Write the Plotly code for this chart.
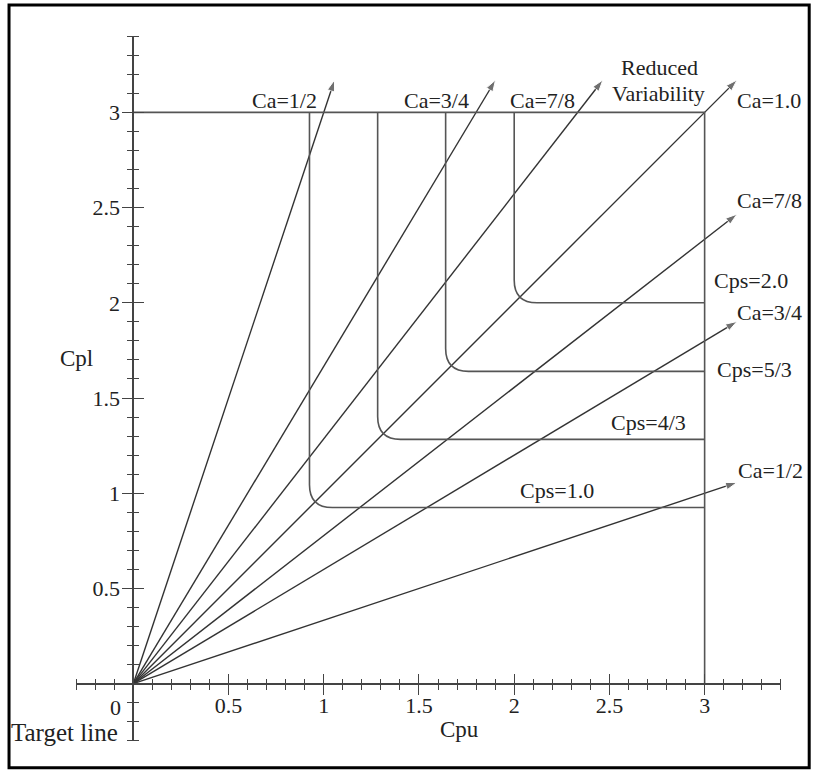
import plotly.graph_objects as go

# ---------------- data ----------------
ca_upper_labels = ["Ca=1/2", "Ca=3/4", "Ca=7/8", "Ca=1.0"]
ca_upper_slopes = [3.0, 5 / 3, 9 / 7, 1.0]          # Cpl / Cpu along each ray
ca_lower_labels = ["Ca=7/8", "Ca=3/4", "Ca=1/2"]
ca_lower_slopes = [7 / 9, 3 / 5, 1 / 3]
ray_reach = 3.17                                     # rays end where Cpl (upper) or Cpu (lower) = 3.17

cps_labels = ["Cps=1.0", "Cps=4/3", "Cps=5/3", "Cps=2.0"]
cps_levels = [0.925, 1.283, 1.64, 2.0]
cps_corner = 0.12
box_limit = 3.0

axis_min, axis_max = -0.3, 3.4
major_ticks = [0.5, 1, 1.5, 2, 2.5, 3]
major_tick_text = ["0.5", "1", "1.5", "2", "2.5", "3"]

# label positions (data coordinates)
top_label_text = ["Ca=1/2", "Ca=3/4", "Ca=7/8"]
top_label_x = [0.794, 1.592, 2.147]
top_label_y = [3.062, 3.062, 3.062]
right_label_text = ["Ca=1.0", "Ca=7/8", "Cps=2.0", "Ca=3/4", "Cps=5/3", "Ca=1/2"]
right_label_x = [3.162, 3.162, 3.041, 3.162, 3.052, 3.167]
right_label_y = [3.062, 2.538, 2.118, 1.951, 1.652, 1.122]
inner_label_text = ["Cps=4/3", "Cps=1.0"]
inner_label_x = [2.706, 2.223]
inner_label_y = [1.374, 1.017]

FONT = "Liberation Serif"
TXT = "#222222"
LINE = "#333333"
AX = "#444444"
FS = 22

fig = go.Figure()

# rays (Ca lines) with arrow heads
for s in ca_upper_slopes:
    fig.add_trace(go.Scatter(
        x=[0, ray_reach / s], y=[0, ray_reach], mode="lines+markers",
        line=dict(color=LINE, width=1.4),
        marker=dict(symbol="arrow", size=[0, 12], angleref="previous", color=LINE),
        hoverinfo="skip", showlegend=False))
for s in ca_lower_slopes:
    fig.add_trace(go.Scatter(
        x=[0, ray_reach], y=[0, ray_reach * s], mode="lines+markers",
        line=dict(color=LINE, width=1.4),
        marker=dict(symbol="arrow", size=[0, 12], angleref="previous", color=LINE),
        hoverinfo="skip", showlegend=False))

# box (Cpl = 3 and Cpu = 3)
fig.add_trace(go.Scatter(
    x=[0, box_limit, box_limit], y=[box_limit, box_limit, 0], mode="lines",
    line=dict(color="#555555", width=1.6), hoverinfo="skip", showlegend=False,
    xaxis="x2", yaxis="y2"))

# Cps contours (L-shaped with rounded corner)
for c in cps_levels:
    path = (f"M {c},{box_limit} L {c},{c + cps_corner} "
            f"Q {c},{c} {c + cps_corner},{c} L {box_limit},{c}")
    fig.add_shape(type="path", path=path, xref="x", yref="y",
                  line=dict(color="#555555", width=1.6))

# figure frame
fig.add_shape(type="rect", xref="paper", yref="paper",
              x0=-0.095, x1=1.04, y0=-0.038, y1=1.044,
              line=dict(color="black", width=3))

def ann(text, x, y, xanchor="center", size=FS):
    fig.add_annotation(text=text, x=x, y=y, xref="x", yref="y",
                       xanchor=xanchor, yanchor="middle", showarrow=False,
                       font=dict(family=FONT, size=size, color=TXT))

for t, x, y in zip(top_label_text, top_label_x, top_label_y):
    ann(t, x, y)
for t, x, y in zip(right_label_text, right_label_x, right_label_y):
    ann(t, x, y, xanchor="left")
for t, x, y in zip(inner_label_text, inner_label_x, inner_label_y):
    ann(t, x, y)
ann("Reduced", 2.763, 3.235)
ann("Variability", 2.758, 3.099)
ann("Cpl", -0.299, 1.709, size=23)
ann("Cpu", 1.715, -0.241, size=23)
ann("Target line", -0.068, -0.257, xanchor="right", size=25)
ann("0", -0.055, -0.125, xanchor="right")

minor_vals = [round(axis_min + 0.1 * i, 1) for i in range(38)]
minor_vals = [v for v in minor_vals if v not in major_ticks and v != 0]
zero_pos = (0 - axis_min) / (axis_max - axis_min)
rng = [axis_min - 0.001, axis_max + 0.001]

common = dict(range=rng, showgrid=False, zeroline=False, anchor="free",
              position=zero_pos, tickmode="array", tickvals=major_ticks,
              ticktext=major_tick_text, ticklen=10, tickwidth=1.4, tickcolor=AX,
              tickfont=dict(family=FONT, size=FS, color=TXT),
              minor=dict(tickvals=minor_vals, ticklen=5, tickwidth=1.4,
                         tickcolor=AX, ticks="outside"))

fig.update_layout(
    width=814, height=771,
    margin=dict(l=76, r=33, t=36, b=30),
    plot_bgcolor="white", paper_bgcolor="white",
    xaxis=dict(**common, side="bottom", ticks="outside", showline=True,
               linecolor=AX, linewidth=1.6, ticklabelstandoff=-8),
    yaxis=dict(**common, side="left", ticks="outside", showline=True,
               linecolor=AX, linewidth=1.6, ticklabelstandoff=-2),
    xaxis2=dict(**common, overlaying="x", matches="x", side="top",
                ticks="outside", showline=False, showticklabels=False),
    yaxis2=dict(**common, overlaying="y", matches="y", side="right",
                ticks="outside", showline=False, showticklabels=False),
)

fig.write_html(
    "out.html",
    config={"displayModeBar": False},
    post_script="document.body.style.margin='0';document.body.style.overflow='hidden';",
)
